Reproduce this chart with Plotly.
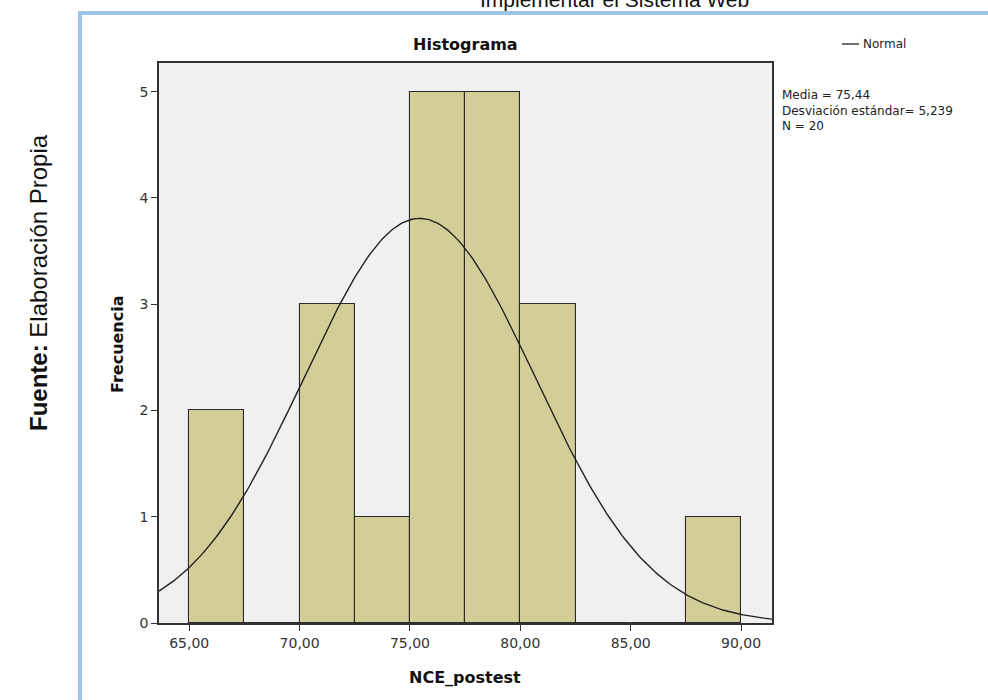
import numpy as np
import plotly.graph_objects as go

# Histogram of NCE_postest (bin width 2.5)
bin_starts = [65.0, 67.5, 70.0, 72.5, 75.0, 77.5, 80.0, 82.5, 85.0, 87.5]
counts = [2, 0, 3, 1, 5, 5, 3, 0, 0, 1]
bin_width = 2.5

# Summary statistics shown in the chart
media = 75.44
desv = 5.239
n_obs = 20

x_ticks = [65, 70, 75, 80, 85, 90]
x_tick_labels = ["65,00", "70,00", "75,00", "80,00", "85,00", "90,00"]
y_ticks = [0, 1, 2, 3, 4, 5]

x_range = [63.63, 91.4]
y_range = [0, 5.27]

BAR_FILL = "#D3CE97"
PLOT_BG = "#F0F0F0"
FRAME_BLUE = "#9DC3E6"
FONT = "DejaVu Sans"

centers = [s + bin_width / 2 for s in bin_starts]

# Fitted normal curve scaled to frequency
xc = np.linspace(x_range[0], x_range[1], 300)
yc = n_obs * bin_width * np.exp(-0.5 * ((xc - media) / desv) ** 2) / (desv * np.sqrt(2 * np.pi))

fig = go.Figure()
fig.add_trace(go.Bar(
    x=centers, y=counts, width=bin_width,
    marker=dict(color=BAR_FILL, line=dict(color="#2b2b2b", width=1.1)),
    showlegend=False, hoverinfo="x+y",
))
fig.add_trace(go.Scatter(
    x=xc, y=yc, mode="lines", line=dict(color="#222222", width=1.4),
    name="Normal", showlegend=False,
))

W, H = 988, 700
L, R, T, B = 159, 216, 63, 77
pw, ph = W - L - R, H - T - B


def px(xp):
    return (xp - L) / pw


def py(yp):
    return (H - B - yp) / ph


axis_common = dict(
    showline=True, linecolor="#333333", linewidth=1.5, mirror=True,
    ticks="outside", ticklen=6, tickwidth=1.3, tickcolor="#333333",
    showgrid=False, zeroline=False, fixedrange=True,
    tickfont=dict(family=FONT, size=14, color="#333333"),
)

fig.update_layout(
    width=W, height=H,
    margin=dict(l=L, r=R, t=T, b=B),
    paper_bgcolor="white", plot_bgcolor=PLOT_BG,
    bargap=0, font=dict(family=FONT, color="#111111"),
    xaxis=dict(range=x_range, tickvals=x_ticks, ticktext=x_tick_labels, **axis_common),
    yaxis=dict(range=y_range, tickvals=y_ticks, **axis_common),
)


def label(text, x, y, size, family=FONT, xanchor="center", angle=0, color="#111111", align="center"):
    return dict(text=text, x=px(x), y=py(y), xref="paper", yref="paper",
                xanchor=xanchor, yanchor="middle", textangle=angle, showarrow=False,
                align=align, font=dict(family=family, size=size, color=color))


stats_text = "<br>".join([
    f"Media = {media:.2f}".replace(".", ","),
    f"Desviación estándar= {desv:.3f}".replace(".", ","),
    f"N = {n_obs}",
])

annotations = [
    label("<b>Histograma</b>", 465, 45, 16),
    label("<b>NCE_postest</b>", 465, 677, 16),
    label("<b>Frecuencia</b>", 117, 344, 16, angle=-90),
    label("Normal", 861, 44, 12, xanchor="left", color="#222222"),
    label(stats_text, 780, 110, 12, xanchor="left", color="#222222", align="left"),
    label("<b>Fuente:</b> Elaboración Propia", 38, 283, 24, family="Liberation Sans", angle=-90),
    dict(text="Implementar el Sistema Web", x=px(614), y=py(13), xref="paper", yref="paper",
         xanchor="center", yanchor="bottom", showarrow=False,
         font=dict(family="Liberation Sans", size=21, color="#111111")),
]
fig.update_layout(annotations=annotations)

shapes = [
    # legend sample line
    dict(type="line", xref="paper", yref="paper", x0=px(842), x1=px(859), y0=py(44), y1=py(44),
         line=dict(color="#222222", width=1.3)),
    # light blue page frame
    dict(type="line", xref="paper", yref="paper", x0=px(80), x1=px(80), y0=py(11), y1=py(700),
         line=dict(color=FRAME_BLUE, width=4)),
    dict(type="line", xref="paper", yref="paper", x0=px(78), x1=px(988), y0=py(13), y1=py(13),
         line=dict(color=FRAME_BLUE, width=4)),
]
fig.update_layout(shapes=shapes)

fig.write_html("out.html")
